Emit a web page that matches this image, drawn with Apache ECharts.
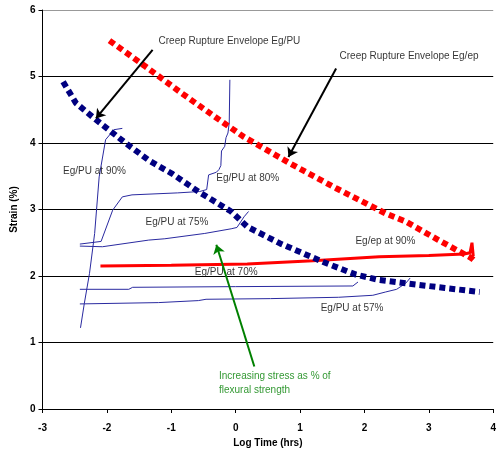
<!DOCTYPE html>
<html><head><meta charset="utf-8">
<script src="https://cdn.jsdelivr.net/npm/echarts@6/dist/echarts.min.js"></script>
<style>html,body{margin:0;padding:0;background:#fff}#c{width:499px;height:453px}</style>
</head><body><div id="c"></div>
<script>
// ---- data (x = log time in hrs, y = strain %) ----
const xTicks = [-3, -2, -1, 0, 1, 2, 3, 4];
const yTicks = [0, 1, 2, 3, 4, 5, 6];

const envelopeEgPU = [[-2.68,4.92],[-2.48,4.60],[-2.17,4.35],[-1.71,4.00],[-1.35,3.74],[-0.99,3.54],[-0.58,3.27],[-0.07,2.97],[0.18,2.74],[0.69,2.49],[1.36,2.21],[1.87,2.02],[2.23,1.94],[2.64,1.89],[3.25,1.82],[3.79,1.76]];
const envelopeEgEp = [[-1.96,5.54],[-1.40,5.15],[-0.84,4.75],[-0.33,4.40],[0.13,4.09],[0.85,3.69],[1.56,3.32],[2.33,2.94],[2.64,2.82],[3.15,2.54],[3.66,2.27],[3.72,2.22]];

const egEp90 = [[-2.10,2.15],[-1.0,2.16],[0.18,2.18],[1.20,2.23],[2.23,2.29],[3.00,2.31],[3.55,2.33],[3.64,2.35],[3.67,2.50],[3.69,2.30]];
const egPU90 = [[-2.41,1.22],[-2.35,1.59],[-2.27,2.04],[-2.19,2.64],[-2.12,3.49],[-2.02,4.05],[-1.89,4.20],[-1.76,4.22]];
const egPU80 = [[-2.42,2.48],[-2.09,2.52],[-1.91,2.99],[-1.76,3.19],[-1.61,3.22],[-0.90,3.25],[-0.56,3.27],[-0.45,3.30],[-0.42,3.52],[-0.30,3.56],[-0.26,3.60],[-0.23,3.66],[-0.22,3.88],[-0.17,3.95],[-0.15,4.08],[-0.12,4.15],[-0.10,4.30],[-0.09,4.95]];
const egPU75 = [[-2.42,2.45],[-2.07,2.44],[-1.35,2.54],[-1.10,2.56],[-0.48,2.64],[-0.07,2.71],[0.02,2.73],[0.13,2.89],[0.20,2.97]];
const egPU70 = [[-2.42,1.80],[-1.66,1.80],[-1.60,1.83],[0.00,1.84],[1.82,1.85],[1.90,1.91]];
const egPU57 = [[-2.42,1.58],[-1.20,1.60],[-0.58,1.63],[-0.46,1.65],[0.54,1.66],[1.60,1.68],[2.13,1.71],[2.33,1.76],[2.50,1.80],[2.64,1.89],[2.71,1.97]];

const labels = [
  [-1.198, 5.53, 'Creep Rupture Envelope Eg/PU', '#000'],
  [1.613, 5.30, 'Creep Rupture Envelope Eg/ep', '#000'],
  [-2.68, 3.57, 'Eg/PU at 90%', '#000'],
  [-0.30, 3.47, 'Eg/PU at 80%', '#000'],
  [-1.40, 2.81, 'Eg/PU at 75%', '#000'],
  [-0.635, 2.06, 'Eg/PU at 70%', '#000'],
  [1.86, 2.52, 'Eg/ep at 90%', '#000'],
  [1.32, 1.51, 'Eg/PU at 57%', '#000'],
  [-0.26, 0.486, 'Increasing stress as % of', '#008000'],
  [-0.26, 0.286, 'flexural strength', '#008000']
];
const arrows = [
  [[-1.29, 5.40], [-2.17, 4.37], '#000'],
  [[1.56, 5.12], [0.82, 3.79], '#000'],
  [[0.29, 0.64], [-0.30, 2.47], '#008000']
];

// ---- chart ----
const chart = echarts.init(document.getElementById('c'), null, {renderer: 'canvas'});
const thin = (d) => ({type: 'line', data: d, symbol: 'none', silent: true, z: 2,
  lineStyle: {color: '#2a2aa0', width: 1}});
const dotted = (d, color) => ({type: 'line', data: d, symbol: 'none', silent: true, z: 5,
  lineStyle: {color: color, width: 6, type: [6, 4], cap: 'butt'}});

chart.setOption({
  animation: false,
  backgroundColor: '#fff',
  grid: {left: 42.5, right: 1, top: 10, bottom: 44, containLabel: false},
  xAxis: {
    type: 'value', min: -3, max: 4, interval: 1,
    name: 'Log Time (hrs)', nameLocation: 'middle', nameGap: 27,
    nameTextStyle: {fontFamily: 'Liberation Sans', fontWeight: 'bold', fontSize: 10, color: '#000'},
    axisLine: {onZero: false, lineStyle: {color: '#000', width: 1}},
    axisTick: {show: true, length: 4, lineStyle: {color: '#000'}},
    axisLabel: {fontFamily: 'Liberation Sans', fontWeight: 'bold', fontSize: 10, color: '#000', margin: 14,
      formatter: v => xTicks.includes(v) ? String(v) : ''},
    splitLine: {show: false}
  },
  yAxis: {
    type: 'value', min: 0, max: 6, interval: 1,
    name: 'Strain (%)', nameLocation: 'middle', nameGap: 22,
    nameTextStyle: {fontFamily: 'Liberation Sans', fontWeight: 'bold', fontSize: 10, color: '#000'},
    axisLine: {show: true, onZero: false, lineStyle: {color: '#000', width: 1}},
    axisTick: {show: true, length: 4, lineStyle: {color: '#000'}},
    axisLabel: {fontFamily: 'Liberation Sans', fontWeight: 'bold', fontSize: 10, color: '#000', margin: 7,
      formatter: v => yTicks.includes(v) ? String(v) : ''},
    splitLine: {show: true, lineStyle: {color: ['#000','#000','#000','#000','#000','#000','#999'], width: 1}}
  },
  series: [
    thin(egPU90), thin(egPU80), thin(egPU75), thin(egPU70), thin(egPU57),
    {type: 'line', data: egEp90, symbol: 'none', silent: true, z: 3,
      lineStyle: {color: '#ff0000', width: 3}},
    dotted(envelopeEgEp, '#ff0000'),
    dotted(envelopeEgPU, '#000080'),
    {type: 'scatter', symbolSize: 0, silent: true, z: 10,
      label: {show: true, position: 'right', distance: 0, color: '#000', fontFamily: 'Liberation Sans', fontSize: 10, textBorderWidth: 0},
      data: labels.map(l => ({value: [l[0], l[1]], name: l[2],
        label: {show: true, position: 'right', distance: 0, formatter: l[2],
          fontFamily: 'Liberation Sans', fontSize: 10, color: l[3], textBorderWidth: 0}})),
      markLine: {silent: true, symbol: ['none', 'arrow'], symbolSize: 9, z: 11,
        label: {show: false},
        data: arrows.map(a => [
          {coord: a[0], lineStyle: {color: a[2], width: 2, type: 'solid'}},
          {coord: a[1]}
        ])}
    }
  ]
});
</script></body></html>
